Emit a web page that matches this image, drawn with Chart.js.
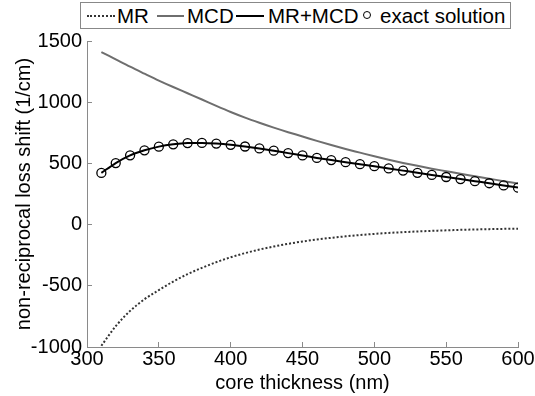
<!DOCTYPE html>
<html>
<head>
<meta charset="utf-8">
<script src="https://cdn.jsdelivr.net/npm/chart.js@4.4.1/dist/chart.umd.min.js"></script>
<style>
  body { margin: 0; background: #fff; font-family: "Liberation Sans", Arial, sans-serif; }
  #wrap { position: relative; width: 535px; height: 396px; }
  #legend { position: absolute; left: 80px; top: 2px; width: 431px; height: 27px; border: 1px solid #888; box-sizing: border-box; background: #fff; }
  .sw { position: absolute; top: 12px; height: 0; }
  .mk { position: absolute; top: 8px; width: 6px; height: 6px; border: 1.3px solid #000; border-radius: 50%; }
  .lbl { position: absolute; top: 0; line-height: 25px; font-size: 20.5px; color: #000; white-space: nowrap; }
</style>
</head>
<body>
<div id="wrap">
  <canvas id="chart" width="535" height="396"></canvas>
  <div id="legend"></div>
</div>
<script>
// core thickness (nm)
const thickness = [310, 320, 330, 340, 350, 360, 370, 380, 390, 400,
                   410, 420, 430, 440, 450, 460, 470, 480, 490, 500,
                   510, 520, 530, 540, 550, 560, 570, 580, 590, 600];

// non-reciprocal loss shift (1/cm)
const mr = [-990, -830, -705, -610, -535, -465, -405, -353, -307, -267,
            -233, -204, -179, -157, -138, -122, -108, -96, -85, -76,
            -68, -62, -56, -51, -47, -43, -40, -37, -35, -33];

const mcd = [1410, 1350, 1290, 1233, 1177, 1124, 1073, 1022, 970, 920,
             874, 832, 792, 755, 720, 684, 650, 618, 588, 558,
             530, 504, 480, 457, 436, 415, 395, 375, 355, 335];

const mrPlusMcd = [422, 503, 566, 607, 637, 656, 666, 667, 662, 652,
                   638, 622, 604, 584, 565, 545, 527, 510, 494, 477,
                   459, 441, 423, 406, 389, 372, 355, 338, 320, 302];

const exactSolution = [422, 503, 566, 607, 637, 656, 666, 667, 662, 652,
                       638, 622, 604, 584, 565, 545, 527, 510, 494, 477,
                       459, 441, 423, 406, 389, 372, 355, 338, 320, 302];

const xTicks = [300, 350, 400, 450, 500, 550, 600];
const yTicks = [-1000, -500, 0, 500, 1000, 1500];

const FONT = { family: '"Liberation Sans", Arial, sans-serif', size: 20 };
const AXIS_COLOR = '#8a8a8a';

const pts = ys => thickness.map((x, i) => ({ x, y: ys[i] }));

// legend drawn as html (matlab-style boxed legend)
const legendItems = [
  { label: 'MR',             kind: 'line', style: 'dotted', color: '#333', x: 86,  w: 28, tx: 116 },
  { label: 'MCD',            kind: 'line', style: 'solid',  color: '#6e6e6e', x: 156, w: 27, tx: 186 },
  { label: 'MR+MCD',         kind: 'line', style: 'solid',  color: '#000', x: 235, w: 28, tx: 267 },
  { label: 'exact solution', kind: 'mark', x: 362, tx: 379 },
];
const legendEl = document.getElementById('legend');
legendEl.innerHTML = legendItems.map(it => {
  const sw = it.kind === 'line'
    ? `<div class="sw" style="left:${it.x - 80}px;width:${it.w}px;border-top:2px ${it.style} ${it.color}"></div>`
    : `<div class="mk" style="left:${it.x - 80}px"></div>`;
  return sw + `<div class="lbl" style="left:${it.tx - 80}px">${it.label}</div>`;
}).join('');

new Chart(document.getElementById('chart'), {
  type: 'line',
  data: {
    datasets: [
      {
        label: 'exact solution',
        data: pts(exactSolution),
        showLine: false,
        pointRadius: 4.5,
        pointBorderWidth: 1.3,
        pointBorderColor: '#000',
        pointBackgroundColor: 'rgba(0,0,0,0)',
        order: 0,
      },
      {
        label: 'MR+MCD',
        data: pts(mrPlusMcd),
        borderColor: '#000',
        borderWidth: 2,
        pointRadius: 0,
        cubicInterpolationMode: 'monotone',
        order: 1,
      },
      {
        label: 'MCD',
        data: pts(mcd),
        borderColor: '#6e6e6e',
        borderWidth: 2,
        pointRadius: 0,
        cubicInterpolationMode: 'monotone',
        order: 2,
      },
      {
        label: 'MR',
        data: pts(mr),
        borderColor: '#333',
        borderWidth: 2,
        borderDash: [2, 2],
        pointRadius: 0,
        cubicInterpolationMode: 'monotone',
        order: 3,
      },
    ],
  },
  options: {
    responsive: false,
    animation: false,
    devicePixelRatio: 1,
    layout: { padding: { top: 41, right: 17, left: 0, bottom: 0 } },
    plugins: {
      legend:  { display: false },
      tooltip: { enabled: false },
    },
    scales: {
      x: {
        type: 'linear',
        position: 'bottom',
        min: 300,
        max: 600,
        afterBuildTicks: s => { s.ticks = xTicks.map(v => ({ value: v })); },
        afterFit: s => { s.height = 49; s.paddingLeft = 0; s.paddingRight = 0; },
        grid:   { drawOnChartArea: false, drawTicks: true, tickLength: -5, color: AXIS_COLOR },
        border: { color: AXIS_COLOR, width: 1 },
        ticks:  { font: FONT, color: '#000', padding: 5, maxRotation: 0, autoSkip: false, callback: v => String(v) },
        title:  { display: true, text: 'core thickness (nm)', font: FONT, color: '#000', padding: { top: 0, bottom: 1 } },
      },
      y: {
        type: 'linear',
        min: -1000,
        max: 1500,
        afterBuildTicks: s => { s.ticks = yTicks.map(v => ({ value: v })); },
        afterFit: s => { s.width = 87; s.paddingTop = 0; s.paddingBottom = 0; },
        grid:   { drawOnChartArea: false, drawTicks: true, tickLength: -5, color: AXIS_COLOR },
        border: { color: AXIS_COLOR, width: 1 },
        ticks:  { font: FONT, color: '#000', padding: 10, autoSkip: false, callback: v => String(v) },
        title:  { display: true, text: 'non-reciprocal loss shift (1/cm)', font: FONT, color: '#000', padding: { top: 12, bottom: 0 } },
      },
    },
  },
});
</script>
</body>
</html>
